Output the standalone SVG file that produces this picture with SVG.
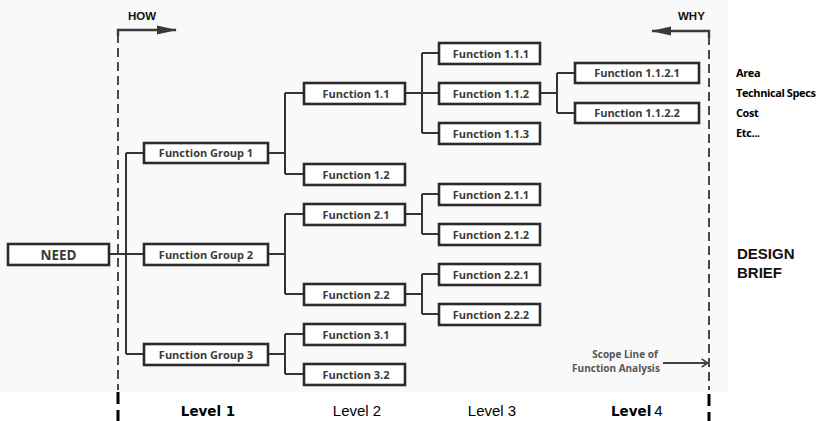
<svg xmlns="http://www.w3.org/2000/svg" width="826" height="421" viewBox="0 0 826 421">
  <defs>
    <style>
      .box { fill: #ffffff; stroke: #2b2b2b; stroke-width: 2.6; }
      .lbl { font-family: "Open Sans", "Noto Sans", sans-serif; font-weight: 700; font-size: 11px; fill: #3a3a3a; text-anchor: middle; }
      .need { font-family: "Open Sans", "Noto Sans", sans-serif; font-weight: 700; font-size: 13.5px; fill: #3a3a3a; text-anchor: middle; }
      .conn { fill: none; stroke: #333333; stroke-width: 2; }
      .scope-top { fill: none; stroke: #4a4a4a; stroke-width: 2; stroke-dasharray: 9 5; }
      .scope-bot { fill: none; stroke: #000000; stroke-width: 3; stroke-dasharray: 12 6; }
      .dir { font-family: "Liberation Sans", Arial, sans-serif; font-weight: 700; font-size: 11.5px; fill: #111; }
      .brief { font-family: "Open Sans", "Noto Sans", sans-serif; font-weight: 700; font-size: 11px; fill: #000; letter-spacing: -0.4px; }
      .design { font-family: "Liberation Sans", Arial, sans-serif; font-weight: 700; font-size: 15px; fill: #111; }
      .lvl { font-family: "Liberation Sans", Arial, sans-serif; font-size: 15px; fill: #000; text-anchor: middle; }
      .lvlb { font-family: "DejaVu Sans", "Liberation Sans", sans-serif; font-weight: 700; font-size: 13.5px; fill: #000; }
      .note { font-family: "Open Sans", "Noto Sans", sans-serif; font-weight: 700; font-size: 10px; fill: #555; text-anchor: middle; }
    </style>
    <marker id="headFill" viewBox="0 0 20 10" refX="19" refY="5" markerWidth="20" markerHeight="10" markerUnits="userSpaceOnUse" orient="auto">
      <path d="M0,0.5 L20,5 L0,9.5 Z" fill="#3a3a3a"/>
    </marker>
    <marker id="headOpen" viewBox="0 0 10 12" refX="9" refY="6" markerWidth="8" markerHeight="12" markerUnits="userSpaceOnUse" orient="auto">
      <path d="M1,1 L9,6 L1,11" fill="none" stroke="#444" stroke-width="2"/>
    </marker>
  </defs>

  <!-- paper tone of the worksheet area -->
  <rect x="0" y="0" width="728" height="392" fill="#f9f9f9"/>

  <!-- scope boundaries and HOW / WHY directions -->
  <g id="scope">
    <path class="scope-top" d="M118,34 V390"/>
    <path class="scope-bot" d="M118,392 V421"/>
    <path class="scope-top" d="M709,36 V390"/>
    <path class="scope-bot" d="M709,394 V421"/>
    <path d="M118,36 V30 H176" fill="none" stroke="#3a3a3a" stroke-width="2.4" marker-end="url(#headFill)"/>
    <path d="M709,38 V31 H652" fill="none" stroke="#3a3a3a" stroke-width="2.4" marker-end="url(#headFill)"/>
    <text class="dir" x="128" y="19.5">HOW</text>
    <text class="dir" x="678" y="19.5">WHY</text>
    <path d="M663,363 H708" fill="none" stroke="#444" stroke-width="1.8" marker-end="url(#headOpen)"/>
    <text class="note" x="625" y="358">Scope Line of</text>
    <text class="note" x="616" y="372">Function Analysis</text>
  </g>

  <!-- tree connectors -->
  <g id="connectors">
    <path class="conn" d="M109,254 H143"/>
    <path class="conn" d="M126,153 V354 M126,153 H143 M126,354 H143"/>
    <path class="conn" d="M268,153 H285 M285,93 V174 M285,93 H304 M285,174 H304"/>
    <path class="conn" d="M405,93 H439 M422,53 V133 M422,53 H439 M422,133 H439"/>
    <path class="conn" d="M540,93 H557 M557,73 V113 M557,73 H575 M557,113 H575"/>
    <path class="conn" d="M268,254 H285 M285,214 V294 M285,214 H304 M285,294 H304"/>
    <path class="conn" d="M405,214 H422 M422,194 V234 M422,194 H439 M422,234 H439"/>
    <path class="conn" d="M405,294 H422 M422,274 V314 M422,274 H439 M422,314 H439"/>
    <path class="conn" d="M268,354 H285 M285,334 V374 M285,334 H304 M285,374 H304"/>
  </g>

  <g id="need"><rect class="box" x="8" y="244" width="101" height="21"/><text class="need" x="58.5" y="259.5">NEED</text></g>

  <g id="fg1"><rect class="box" x="144" y="143" width="124" height="20"/><text class="lbl" x="206" y="157">Function Group 1</text></g>
  <g id="fg2"><rect class="box" x="144" y="244" width="124" height="21"/><text class="lbl" x="206" y="258.5">Function Group 2</text></g>
  <g id="fg3"><rect class="box" x="144" y="344" width="124" height="21"/><text class="lbl" x="206" y="358.5">Function Group 3</text></g>

  <g id="f11"><rect class="box" x="304" y="83" width="101" height="21"/><text class="lbl" x="356" y="97.5">Function 1.1</text></g>
  <g id="f12"><rect class="box" x="304" y="164" width="101" height="21"/><text class="lbl" x="356" y="178.5">Function 1.2</text></g>
  <g id="f21"><rect class="box" x="304" y="204" width="101" height="21"/><text class="lbl" x="356" y="218.5">Function 2.1</text></g>
  <g id="f22"><rect class="box" x="304" y="284" width="101" height="21"/><text class="lbl" x="356" y="298.5">Function 2.2</text></g>
  <g id="f31"><rect class="box" x="304" y="324" width="101" height="21"/><text class="lbl" x="356" y="338.5">Function 3.1</text></g>
  <g id="f32"><rect class="box" x="304" y="364" width="101" height="21"/><text class="lbl" x="356" y="378.5">Function 3.2</text></g>

  <g id="f111"><rect class="box" x="439" y="43" width="101" height="21"/><text class="lbl" x="491" y="57.5">Function 1.1.1</text></g>
  <g id="f112"><rect class="box" x="439" y="83" width="101" height="21"/><text class="lbl" x="491" y="97.5">Function 1.1.2</text></g>
  <g id="f113"><rect class="box" x="439" y="123" width="101" height="21"/><text class="lbl" x="491" y="137.5">Function 1.1.3</text></g>
  <g id="f211"><rect class="box" x="439" y="184" width="101" height="21"/><text class="lbl" x="491" y="198.5">Function 2.1.1</text></g>
  <g id="f212"><rect class="box" x="439" y="224" width="101" height="21"/><text class="lbl" x="491" y="238.5">Function 2.1.2</text></g>
  <g id="f221"><rect class="box" x="439" y="264" width="101" height="21"/><text class="lbl" x="491" y="278.5">Function 2.2.1</text></g>
  <g id="f222"><rect class="box" x="439" y="304" width="101" height="21"/><text class="lbl" x="491" y="318.5">Function 2.2.2</text></g>

  <g id="f1121"><rect class="box" x="575" y="63" width="124" height="20"/><text class="lbl" x="637" y="77">Function 1.1.2.1</text></g>
  <g id="f1122"><rect class="box" x="575" y="103" width="124" height="20"/><text class="lbl" x="637" y="117">Function 1.1.2.2</text></g>

  <!-- design brief notes -->
  <g id="brief">
    <text class="brief" x="736" y="77">Area</text>
    <text class="brief" x="736" y="97">Technical Specs</text>
    <text class="brief" x="736" y="117">Cost</text>
    <text class="brief" x="736" y="137">Etc...</text>
    <text class="design" x="737" y="259">DESIGN</text>
    <text class="design" x="737" y="278">BRIEF</text>
  </g>

  <!-- level captions -->
  <g id="levels">
    <text class="lvlb" x="208" y="416" text-anchor="middle">Level 1</text>
    <text class="lvl" x="357" y="416">Level 2</text>
    <text class="lvl" x="492" y="416">Level 3</text>
    <text x="611" y="416"><tspan class="lvlb">Level</tspan><tspan class="lvl" text-anchor="start" dx="3">4</tspan></text>
  </g>
</svg>
